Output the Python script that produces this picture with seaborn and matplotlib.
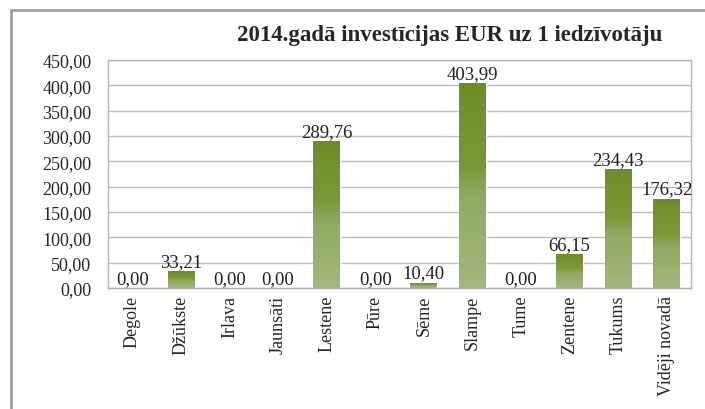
import matplotlib
matplotlib.use('Agg')
import matplotlib.pyplot as plt
import seaborn as sns
import numpy as np
import pandas as pd
from matplotlib.colors import LinearSegmentedColormap
from matplotlib.lines import Line2D

places = ['Degole', 'Džūkste', 'Irlava', 'Jaunsāti', 'Lestene', 'Pūre', 'Sēme',
          'Slampe', 'Tume', 'Zentene', 'Tukums', 'Vidēji novadā']
values = [0.00, 33.21, 0.00, 0.00, 289.76, 0.00, 10.40, 403.99, 0.00, 66.15, 234.43, 176.32]
yticks = [0, 50, 100, 150, 200, 250, 300, 350, 400, 450]
title = '2014.gadā investīcijas EUR uz 1 iedzīvotāju'

df = pd.DataFrame({'place': places, 'eur': values})

sns.set_theme(style='white')
plt.rcParams['font.family'] = ['Liberation Serif', 'DejaVu Serif']

fig = plt.figure(figsize=(7.05, 4.1), dpi=100)
W, H = 705, 410
ax = fig.add_axes([108 / W, 1 - 289 / H, (691 - 108) / W, (289 - 61) / H])

sns.barplot(data=df, x='place', y='eur', ax=ax, color='#7a9a3c', width=0.55,
            saturation=1, zorder=3)

# gradient fill like the excel bars: dark on top, lighter below
cmap = LinearSegmentedColormap.from_list(
    'olive', [(0, '#a2b87e'), (0.45, '#90a962'), (0.6, '#7b9836'), (1, '#6e8d2a')])
grad = np.linspace(0, 1, 256).reshape(-1, 1)
for bar in ax.patches:
    h = bar.get_height()
    if h <= 0:
        continue
    x0 = bar.get_x()
    im = ax.imshow(grad, cmap=cmap, origin='lower', aspect='auto',
                   extent=[x0, x0 + bar.get_width(), 0, h], zorder=4)
    im.set_clip_path(bar)

ax.set_xlim(-0.5, len(places) - 0.5)
ax.set_ylim(0, 450)
ax.set_yticks(yticks)
ax.set_yticklabels(['{:.2f}'.format(v).replace('.', ',') for v in yticks], fontsize=13)
ax.set_xticks(range(len(places)))
ax.set_xticklabels(places, rotation=90, fontsize=13)
ax.tick_params(axis='x', length=0, pad=5)
ax.tick_params(axis='y', length=0, pad=12)
ax.set_xlabel('')
ax.set_ylabel('')
ax.grid(axis='y', color='#bdbdbd', linewidth=1, zorder=0)
for s in ax.spines.values():
    s.set_color('#b4b4b4')
    s.set_linewidth(1)

for i, v in enumerate(values):
    ax.annotate('{:.2f}'.format(v).replace('.', ','), (i, v), xytext=(0, 1),
                textcoords='offset points', ha='center', va='bottom',
                fontsize=13.5, color='#222222', zorder=6)

fig.text(450 / W, 1 - 36 / H, title, ha='center', va='center', fontsize=16.5,
         fontweight='bold')

# outer chart frame (only left and top visible)
fig.add_artist(Line2D([11 / W, 11 / W], [0, 1 - 11 / H], transform=fig.transFigure,
                      color='#a0a0a0', linewidth=2))
fig.add_artist(Line2D([11 / W, 1], [1 - 11 / H, 1 - 11 / H], transform=fig.transFigure,
                      color='#a0a0a0', linewidth=2))

fig.savefig('out.png', dpi=100, facecolor='white')
